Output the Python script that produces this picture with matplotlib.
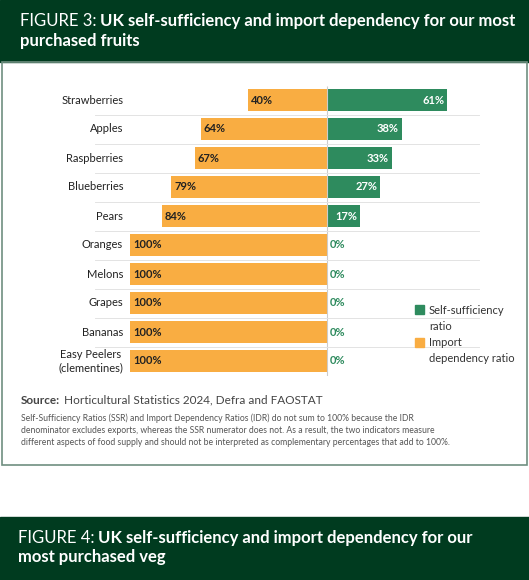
import matplotlib
matplotlib.use("Agg")
import matplotlib.pyplot as plt
from matplotlib.patches import Rectangle

plt.rcParams['font.family'] = ['Lato', 'DejaVu Sans']

categories = ["Strawberries", "Apples", "Raspberries", "Blueberries", "Pears",
              "Oranges", "Melons", "Grapes", "Bananas", "Easy Peelers\n(clementines)"]
self_sufficiency = [61, 38, 33, 27, 17, 0, 0, 0, 0, 0]
import_dependency = [40, 64, 67, 79, 84, 100, 100, 100, 100, 100]

W, H = 529, 580
fig = plt.figure(figsize=(W/100, H/100), dpi=100)
fig.patch.set_facecolor('white')
DG = '#003b1f'; GREEN = '#2e8b5e'; ORANGE = '#f9ad42'

def fx(px): return px / W
def fy(py): return 1 - py / H

renderer = fig.canvas.get_renderer()

def title(x, y, light, bold, fs=12):
    t = fig.text(fx(x), fy(y), light, color='white', fontsize=fs, va='center')
    w = t.get_window_extent(renderer).width
    fig.text(fx(x + w + 3), fy(y), bold, color='white', fontsize=fs, va='center', fontweight='bold')

fig.add_artist(Rectangle((0, fy(62)), 1, 62/H, transform=fig.transFigure, color=DG, zorder=0))
fig.add_artist(Rectangle((fx(2), fy(465)), fx(525), (465-62)/H, transform=fig.transFigure,
                         fill=False, edgecolor='#6f8f80', lw=1.2))
fig.add_artist(Rectangle((0, fy(580)), 1, (580-517)/H, transform=fig.transFigure, color=DG, zorder=0))
title(20, 21, "FIGURE 3:", "UK self-sufficiency and import dependency for our most")
fig.text(fx(20), fy(41), "purchased fruits", color='white', fontsize=12, va='center', fontweight='bold')
title(18, 538, "FIGURE 4:", "UK self-sufficiency and import dependency for our")
fig.text(fx(18), fy(557), "most purchased veg", color='white', fontsize=12, va='center', fontweight='bold')

left, zero = 130, 327
scale = (zero - left) / 100
right = zero + 75 * scale
top_c, bot_c = 100, 361
step = (bot_c - top_c) / 9
ax_top = top_c - step/2; ax_bot = bot_c + step/2
ax = fig.add_axes([fx(left), fy(ax_bot), fx(right - left), (ax_bot - ax_top)/H])
ax.set_xlim(-100, 75)
ax.set_ylim(len(categories) - 0.5, -0.5)
ax.axis('off')
ys = list(range(len(categories)))
bh = 0.76
ax.barh(ys, [-v for v in import_dependency], height=bh, color=ORANGE)
ax.barh(ys, self_sufficiency, height=bh, color=GREEN)
ax.vlines(0, -0.5, len(categories)-0.5, color='#cccccc', lw=0.8)
for y in ys[:-1]:
    ax.plot([-118, 77], [y+0.5, y+0.5], color='#e3e3e3', lw=0.7, clip_on=False)
for y, c, iv, sv in zip(ys, categories, import_dependency, self_sufficiency):
    ax.text(-iv + 1.5, y, f"{iv}%", ha='left', va='center', fontsize=8, fontweight='bold', color='#222222')
    if sv > 0:
        ax.text(sv - 1.5, y, f"{sv}%", ha='right', va='center', fontsize=8, fontweight='bold', color='white')
    else:
        ax.text(1.5, y, "0%", ha='left', va='center', fontsize=8, fontweight='bold', color=GREEN)
    ax.text(-103.5, y, c, ha='right', va='center', fontsize=8, color='#222222',
            multialignment='center', clip_on=False)

fig.add_artist(Rectangle((fx(415), fy(314)), fx(9), 9/H, transform=fig.transFigure, color=GREEN))
fig.text(fx(429), fy(310), "Self-sufficiency", fontsize=8, va='center', color='#333333')
fig.text(fx(429), fy(326), "ratio", fontsize=8, va='center', color='#333333')
fig.add_artist(Rectangle((fx(415), fy(347)), fx(9), 9/H, transform=fig.transFigure, color=ORANGE))
fig.text(fx(429), fy(343), "Import", fontsize=8, va='center', color='#333333')
fig.text(fx(429), fy(359), "dependency ratio", fontsize=8, va='center', color='#333333')

fig.text(fx(21), fy(400), "Source:", fontsize=8.5, fontweight='bold', color='#444444', va='center')
fig.text(fx(64), fy(400), "Horticultural Statistics 2024, Defra and FAOSTAT", fontsize=8.5, color='#444444', va='center')
fig.text(fx(21), fy(430),
         "Self-Sufficiency Ratios (SSR) and Import Dependency Ratios (IDR) do not sum to 100% because the IDR\n"
         "denominator excludes exports, whereas the SSR numerator does not. As a result, the two indicators measure\n"
         "different aspects of food supply and should not be interpreted as complementary percentages that add to 100%.",
         fontsize=6.2, color='#555555', va='center', linespacing=1.45)

fig.savefig("out.png", dpi=100)
